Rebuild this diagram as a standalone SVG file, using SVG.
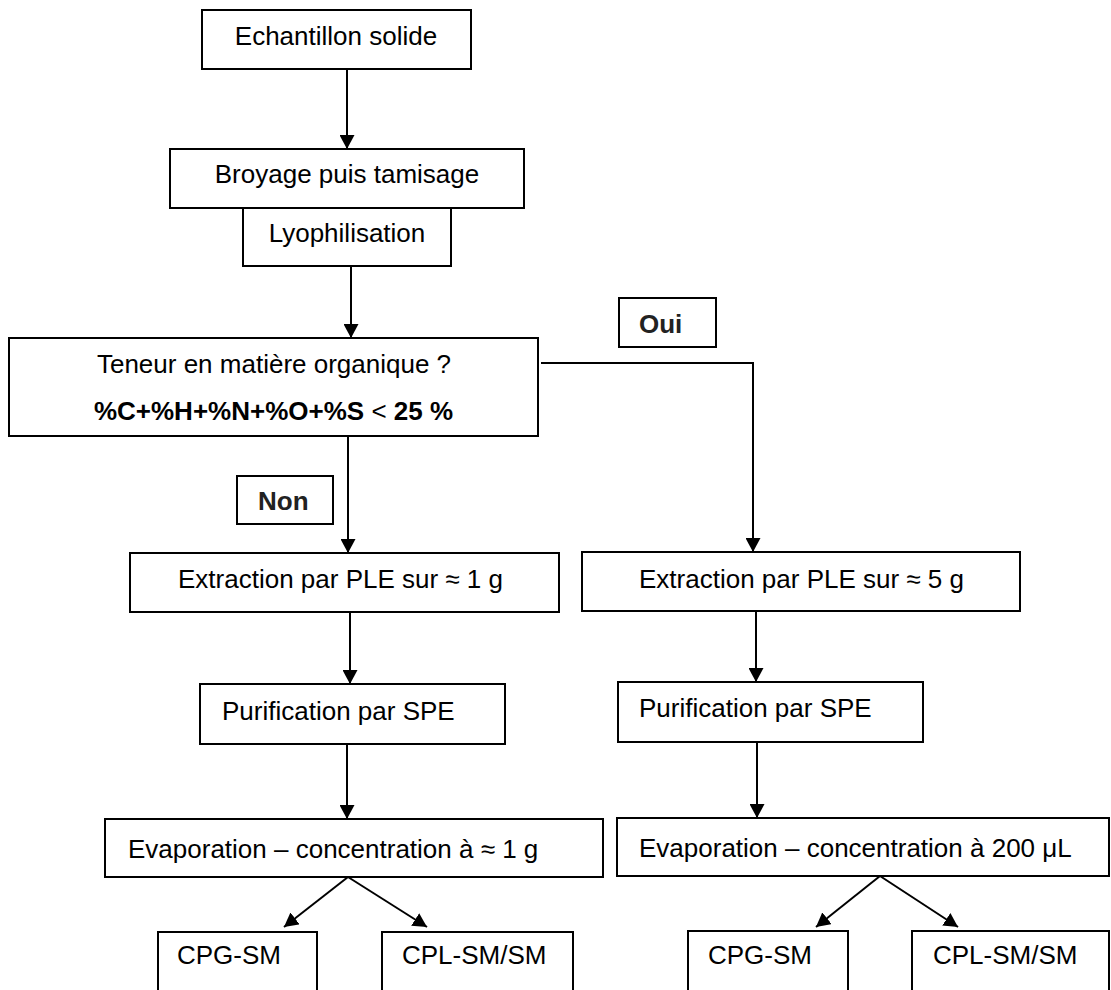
<svg xmlns="http://www.w3.org/2000/svg" width="1111" height="990" viewBox="0 0 1111 990">
<style>
.box{fill:#fff;stroke:#000;stroke-width:2}
.t{font-family:"Liberation Sans",Arial,sans-serif;font-size:26px;fill:#000}
.b{font-weight:bold}
.lab{fill:#222}
.c{fill:none;stroke:#000;stroke-width:2}
</style>
<defs>
<marker id="ah" markerUnits="userSpaceOnUse" markerWidth="14" markerHeight="15" viewBox="0 0 14 15" refX="14" refY="7.5" orient="auto">
<path d="M0,0 L14,7.5 L0,15 z" fill="#000"/>
</marker>
</defs>
<rect width="1111" height="990" fill="#fff"/>
<g id="connectors">
<path class="c" d="M347,69 V149" marker-end="url(#ah)"/>
<path class="c" d="M351,266 V338" marker-end="url(#ah)"/>
<path class="c" d="M348,436 V553" marker-end="url(#ah)"/>
<path class="c" d="M541,363 H753 V552" marker-end="url(#ah)"/>
<path class="c" d="M350,612 V684" marker-end="url(#ah)"/>
<path class="c" d="M756,611 V682" marker-end="url(#ah)"/>
<path class="c" d="M347,744 V819" marker-end="url(#ah)"/>
<path class="c" d="M757,742 V818" marker-end="url(#ah)"/>
<path class="c" d="M348,877 L284,927" marker-end="url(#ah)"/>
<path class="c" d="M348,877 L427,927" marker-end="url(#ah)"/>
<path class="c" d="M880,876 L816,927" marker-end="url(#ah)"/>
<path class="c" d="M880,876 L958,927" marker-end="url(#ah)"/>
</g>
<g id="n-echantillon"><rect class="box" x="202" y="10" width="269" height="59"/><text class="t" x="336" y="45" text-anchor="middle">Echantillon solide</text></g>
<g id="n-broyage"><rect class="box" x="170" y="149" width="354" height="59"/><text class="t" x="347" y="183" text-anchor="middle">Broyage puis tamisage</text></g>
<g id="n-lyophilisation"><rect class="box" x="243" y="208" width="208" height="58"/><text class="t" x="347" y="242" text-anchor="middle">Lyophilisation</text></g>
<g id="n-decision"><rect class="box" x="9" y="338" width="529" height="98"/><text class="t" x="274" y="373" text-anchor="middle">Teneur en matière organique ?</text><text class="t" x="273.5" y="420" text-anchor="middle"><tspan class="b">%C+%H+%N+%O+%S</tspan> &lt; <tspan class="b">25 %</tspan></text></g>
<g id="n-oui"><rect class="box" x="619" y="298" width="97" height="49"/><text class="t b lab" x="639" y="333">Oui</text></g>
<g id="n-non"><rect class="box" x="237" y="476" width="96" height="48"/><text class="t b lab" x="258" y="510">Non</text></g>
<g id="n-extraction1"><rect class="box" x="130" y="553" width="429" height="59"/><text class="t" x="178" y="588">Extraction par PLE sur ≈ 1 g</text></g>
<g id="n-extraction5"><rect class="box" x="582" y="552" width="438" height="59"/><text class="t" x="639" y="588">Extraction par PLE sur ≈ 5 g</text></g>
<g id="n-purif1"><rect class="box" x="200" y="684" width="305" height="60"/><text class="t" x="222" y="720">Purification par SPE</text></g>
<g id="n-purif2"><rect class="box" x="618" y="682" width="305" height="60"/><text class="t" x="639" y="717">Purification par SPE</text></g>
<g id="n-evap1"><rect class="box" x="105" y="819" width="498" height="58"/><text class="t" x="128" y="858">Evaporation – concentration à ≈ 1 g</text></g>
<g id="n-evap2"><rect class="box" x="617" y="818" width="492" height="58"/><text class="t" x="639" y="857">Evaporation – concentration à 200 μL</text></g>
<g id="n-cpg1"><rect class="box" x="158" y="932" width="159" height="80"/><text class="t" x="177" y="964">CPG-SM</text></g>
<g id="n-cpl1"><rect class="box" x="382" y="932" width="191" height="80"/><text class="t" x="402" y="964">CPL-SM/SM</text></g>
<g id="n-cpg2"><rect class="box" x="688" y="931" width="160" height="80"/><text class="t" x="708" y="964">CPG-SM</text></g>
<g id="n-cpl2"><rect class="box" x="912" y="931" width="197" height="80"/><text class="t" x="933" y="964">CPL-SM/SM</text></g>
</svg>
